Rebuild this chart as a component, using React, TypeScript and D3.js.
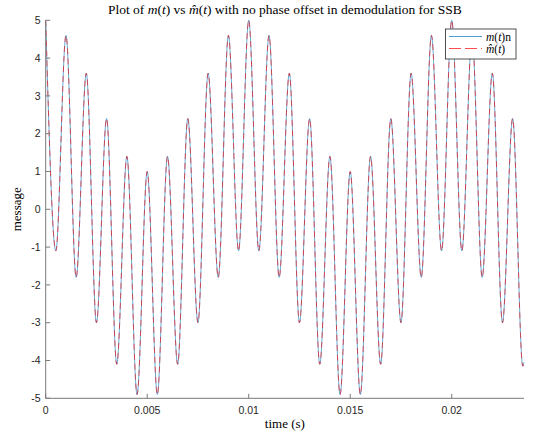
import React from "react";
import * as d3 from "d3";

// Extrema of the message signal (time in s, value)
const times = [
  0, 0.0005, 0.001, 0.0015, 0.002, 0.0025, 0.003, 0.0035, 0.004, 0.0045,
  0.005, 0.0055, 0.006, 0.0065, 0.007, 0.0075, 0.008, 0.0085, 0.009, 0.0095,
  0.01, 0.0105, 0.011, 0.0115, 0.012, 0.0125, 0.013, 0.0135, 0.014, 0.0145,
  0.015, 0.0155, 0.016, 0.0165, 0.017, 0.0175, 0.018, 0.0185, 0.019, 0.0195,
  0.02, 0.0205, 0.021, 0.0215, 0.022, 0.0225, 0.023, 0.0235, 0.02356,
];
const messageValues = [
  5.0, -1.1, 4.6, -1.8, 3.6, -3.0, 2.4, -4.1, 1.4, -4.9,
  1.0, -4.9, 1.4, -4.1, 2.4, -3.0, 3.6, -1.8, 4.6, -1.1,
  5.0, -1.1, 4.6, -1.8, 3.6, -3.0, 2.4, -4.1, 1.4, -4.9,
  1.0, -4.9, 1.4, -4.1, 2.4, -3.0, 3.6, -1.8, 4.6, -1.1,
  5.0, -1.1, 4.6, -1.8, 3.6, -3.0, 2.4, -4.15, -4.05,
];
const demodValues = [
  5.0, -1.1, 4.6, -1.8, 3.6, -3.0, 2.4, -4.1, 1.4, -4.9,
  1.0, -4.9, 1.4, -4.1, 2.4, -3.0, 3.6, -1.8, 4.6, -1.1,
  5.0, -1.1, 4.6, -1.8, 3.6, -3.0, 2.4, -4.1, 1.4, -4.9,
  1.0, -4.9, 1.4, -4.1, 2.4, -3.0, 3.6, -1.8, 4.6, -1.1,
  5.0, -1.1, 4.6, -1.8, 3.6, -3.0, 2.4, -4.15, -4.05,
];
const xTicks = [0, 0.005, 0.01, 0.015, 0.02];
const xTickLabels = ["0", "0.005", "0.01", "0.015", "0.02"];
const yTicks = [-5, -4, -3, -2, -1, 0, 1, 2, 3, 4, 5];

const W = 536;
const H = 436;
const L = 45.7;
const R = 524;
const T = 20.3;
const B = 398.3;

export default function App() {
  const x = d3.scaleLinear().domain([0, 0.02356]).range([L, R]);
  const y = d3.scaleLinear().domain([-5, 5]).range([B, T]);
  const line = d3
    .line<number>()
    .x((_, i) => x(times[i]))
    .y((d) => y(d))
    .curve(d3.curveMonotoneX);
  const sans = "'Liberation Sans', Arial, Helvetica, sans-serif";
  const serif = "'Liberation Serif', 'Times New Roman', serif";
  const axisColor = "#7a7a7a";
  const textColor = "#262626";
  const cx = (L + R) / 2;
  const cy = (T + B) / 2;
  const legX = 445.5;
  const legY = 29;
  return (
    <svg
      width={W}
      height={H}
      style={{ position: "absolute", left: 0, top: 0, background: "#fff" }}
    >
      <rect x={0} y={0} width={W} height={H} fill="#fff" />
      {/* data */}
      <path d={line(messageValues) || ""} fill="none" stroke="#0072BD" strokeWidth={0.6} />
      <path
        d={line(demodValues) || ""}
        fill="none"
        stroke="#FF0000"
        strokeWidth={0.6}
        strokeDasharray="6,4"
      />
      {/* axes */}
      <line x1={L} x2={R} y1={B} y2={B} stroke={axisColor} strokeWidth={1} />
      <line x1={L} x2={L} y1={T} y2={B} stroke={axisColor} strokeWidth={1} />
      {xTicks.map((t, i) => (
        <g key={"x" + i}>
          <line x1={x(t)} x2={x(t)} y1={B} y2={B - 4.5} stroke={axisColor} strokeWidth={1} />
          <text
            x={x(t)}
            y={B + 16}
            textAnchor="middle"
            fontFamily={sans}
            fontSize={10.5}
            fill={textColor}
          >
            {xTickLabels[i]}
          </text>
        </g>
      ))}
      {yTicks.map((v) => (
        <g key={"y" + v}>
          <line x1={L} x2={L + 4.5} y1={y(v)} y2={y(v)} stroke={axisColor} strokeWidth={1} />
          <text
            x={L - 5}
            y={y(v)}
            dy="0.35em"
            textAnchor="end"
            fontFamily={sans}
            fontSize={10.5}
            fill={textColor}
          >
            {v}
          </text>
        </g>
      ))}
      {/* labels */}
      <text x={cx} y={14} textAnchor="middle" fontFamily={serif} fontSize={13.5} fill="#000">
        Plot of <tspan fontStyle="italic">m</tspan>(<tspan fontStyle="italic">t</tspan>) vs{" "}
        <tspan fontStyle="italic">m̂</tspan>(<tspan fontStyle="italic">t</tspan>) with no phase offset in
        demodulation for SSB
      </text>
      <text x={cx} y={428} textAnchor="middle" fontFamily={serif} fontSize={13} fill="#000">
        time (s)
      </text>
      <text
        transform={`translate(21,${cy}) rotate(-90)`}
        textAnchor="middle"
        fontFamily={serif}
        fontSize={13}
        fill="#000"
      >
        message
      </text>
      {/* legend */}
      <rect
        x={legX}
        y={legY}
        width={70.5}
        height={30}
        fill="#fff"
        stroke="#262626"
        strokeWidth={0.8}
      />
      <line x1={449} x2={482} y1={36.5} y2={36.5} stroke="#0072BD" strokeWidth={0.7} />
      <line
        x1={449}
        x2={482}
        y1={48.5}
        y2={48.5}
        stroke="#FF0000"
        strokeWidth={0.7}
        strokeDasharray="12,4"
      />
      <text x={486} y={40.5} fontFamily={serif} fontSize={11.5} fill="#000">
        <tspan fontStyle="italic">m</tspan>(<tspan fontStyle="italic">t</tspan>)n
      </text>
      <text x={486} y={52.5} fontFamily={serif} fontSize={11.5} fill="#000">
        <tspan fontStyle="italic">m̂</tspan>(<tspan fontStyle="italic">t</tspan>)
      </text>
    </svg>
  );
}
